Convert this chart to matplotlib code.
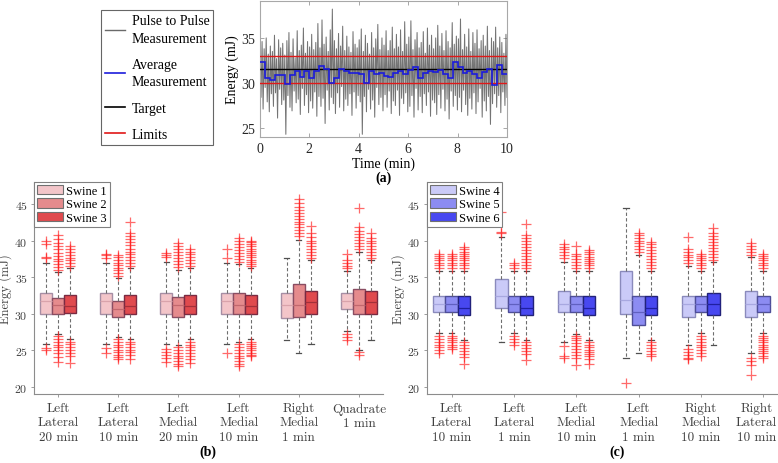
import numpy as np
import matplotlib
matplotlib.use('Agg')
import matplotlib.pyplot as plt
import matplotlib.transforms as mtransforms
from matplotlib.patches import Patch
from matplotlib.lines import Line2D

plt.rcParams['axes.formatter.use_mathtext'] = True

SERIF = ['Liberation Serif', 'DejaVu Serif']
CM = ['cmr10', 'DejaVu Serif']

# ---------------- panel (a) data ----------------
pulse = [
    35.2, 28.4, 34.6, 27.1, 33.8, 29.5, 35.0, 27.9, 33.2, 26.8, 34.1, 28.8,
    33.5, 27.4, 35.3, 28.9, 32.7, 26.1, 34.8, 29.3, 33.9, 27.6, 34.4, 28.1,
    33.1, 24.3, 34.7, 28.6, 35.6, 27.3, 33.4, 26.9, 34.9, 29.1, 32.8, 27.8,
    35.8, 28.2, 33.6, 26.5, 34.2, 29.4, 36.1, 27.5, 33.3, 28.7, 34.6, 26.7,
    34.0, 28.0, 35.4, 27.2, 33.7, 29.0, 34.5, 26.3, 36.6, 28.5, 33.9, 27.4,
    37.0, 28.3, 34.3, 25.5, 35.1, 29.2, 33.5, 27.0, 35.9, 28.4, 38.2, 27.7,
    34.7, 26.6, 33.8, 28.9, 35.5, 27.3, 34.1, 29.6, 36.3, 26.9, 33.6, 28.2,
    35.2, 27.5, 34.0, 28.8, 33.4, 26.4, 35.7, 29.0, 34.3, 27.2, 33.9, 28.6,
    34.8, 27.9, 36.0, 24.3, 33.5, 28.5, 35.3, 26.8, 34.4, 29.3, 33.2, 27.1,
    35.6, 28.1, 33.9, 26.2, 34.9, 29.5, 36.5, 27.6, 33.7, 28.4, 35.0, 26.9,
    34.2, 28.7, 35.8, 27.3, 33.6, 29.1, 34.7, 26.6, 36.2, 28.0, 33.8, 27.5,
    35.4, 29.2, 34.0, 26.4, 35.9, 28.3, 33.5, 27.7, 36.8, 28.9, 34.3, 26.8,
    35.1, 27.4, 36.9, 28.6, 33.7, 26.2, 34.8, 29.4, 35.6, 27.0, 33.9, 28.5,
    34.5, 26.7, 35.7, 28.8, 33.3, 27.5, 36.1, 29.0, 34.2, 26.3, 35.3, 28.1,
    33.8, 27.8, 35.0, 26.5, 36.4, 28.7, 34.1, 27.2, 35.5, 29.3, 33.6, 26.9,
    35.8, 28.2, 34.6, 26.0, 33.9, 29.1, 36.7, 27.4, 34.3, 28.6, 35.2, 27.0,
    34.9, 28.4, 37.1, 26.8, 33.7, 29.2, 35.4, 27.6, 34.0, 26.4, 36.0, 28.3,
    33.5, 27.1, 35.6, 28.9, 34.4, 26.6, 35.9, 27.9, 33.8, 29.4, 34.7, 26.2,
    35.3, 28.0, 34.1, 26.9, 36.3, 28.5, 33.6, 25.4, 35.0, 27.7, 34.6, 28.8,
    36.2, 27.3, 33.9, 28.6, 35.1, 26.7, 34.5, 29.0, 33.3, 27.5, 35.4, 28.4,
]
average = [
    32.3, 30.6, 30.3, 30.9, 30.9, 29.9, 30.9, 31.3, 30.7, 31.3,
    30.6, 31.3, 31.9, 31.5, 30.0, 30.6, 31.6, 31.3, 31.1, 31.1,
    31.0, 30.0, 31.3, 31.0, 31.1, 30.8, 30.7, 31.1, 31.3, 31.0,
    31.4, 31.8, 30.6, 31.1, 31.3, 31.2, 31.4, 31.0, 30.5, 32.3,
    31.8, 31.1, 31.3, 31.0, 30.6, 31.2, 31.5, 29.8, 32.0, 31.0,
]
target = 31.5
limits = [30.0, 33.0]

# ---------------- panel (b) data: Swine 1..3 ----------------
b_names = ['Left\nLateral\n20 min', 'Left\nLateral\n10 min', 'Left\nMedial\n20 min',
           'Left\nMedial\n10 min', 'Right\nMedial\n1 min', 'Quadrate\n1 min']
b_q3 = [[32.9, 32.9, 32.9, 32.9, 32.8, 32.8],
        [32.2, 31.7, 32.3, 32.9, 34.0, 33.4],
        [32.6, 32.6, 32.6, 32.6, 33.1, 33.1]]
b_med = [[31.7, 31.7, 31.7, 31.7, 31.2, 31.7],
         [31.2, 30.6, 31.2, 31.2, 31.2, 31.2],
         [31.1, 31.1, 31.0, 31.0, 31.6, 31.6]]
b_q1 = [[30.0, 30.0, 30.0, 30.0, 29.4, 30.6],
        [30.0, 29.6, 29.6, 30.0, 29.6, 30.0],
        [30.1, 30.0, 30.0, 30.0, 30.0, 30.0]]
b_hi = [[37.0, 37.0, 37.1, 37.0, 37.6, 35.9],
        [35.7, 34.9, 36.0, 36.8, 40.1, 38.4],
        [36.2, 36.2, 36.2, 36.2, 37.3, 37.3]]
b_lo = [[25.9, 25.9, 25.9, 25.9, 26.4, 27.6],
        [27.3, 26.8, 25.7, 26.2, 24.6, 25.0],
        [26.5, 26.5, 26.5, 26.5, 25.9, 26.4]]
b_fliers = [
    [[37.6, 37.7, 39.5, 40.0, 25.3, 25.1],
     [37.6, 38.0, 38.2, 25.3, 24.6],
     [37.7, 38.0, 38.3, 25.2, 24.8, 24.4, 23.9, 23.4],
     [37.6, 38.8, 24.7],
     [],
     [36.2, 36.5, 37.0, 37.3, 38.2, 27.2, 26.8, 26.4]],
    [[36.0, 36.4, 36.8, 37.2, 37.5, 37.9, 38.3, 38.8, 39.2, 39.7, 40.2, 40.7,
      27.0, 26.6, 26.2, 25.8, 25.4, 25.0, 24.6, 24.1, 23.4],
     [35.2, 35.6, 36.0, 36.3, 36.6, 37.0, 37.3, 37.7, 38.0,
      26.5, 26.1, 25.8, 25.4, 25.1, 24.8, 24.4, 24.1, 23.8],
     [36.4, 36.8, 37.2, 37.6, 38.0, 38.4, 38.8, 39.2, 39.6,
      25.5, 25.1, 24.7, 24.3, 23.9, 23.5, 23.1, 22.8],
     [37.1, 37.5, 37.9, 38.3, 38.7, 39.1, 39.5, 39.9, 40.3,
      25.9, 25.5, 25.1, 24.7, 24.3, 23.9, 23.5, 23.1, 22.8],
     [40.6, 41.0, 41.4, 41.8, 42.2, 42.6, 43.0, 43.4, 43.8, 44.2, 44.6, 45.1, 45.7],
     [38.9, 39.3, 39.7, 40.1, 40.5, 40.9, 41.3, 41.8, 44.5, 24.8, 24.4]],
    [[36.5, 36.9, 37.3, 37.6, 38.0, 38.4, 38.8, 39.3,
      26.2, 25.9, 25.5, 25.1, 24.7, 24.3, 23.3],
     [36.5, 36.9, 37.3, 37.7, 38.1, 38.5, 38.9, 39.4, 39.8, 40.2, 40.6, 41.0, 42.5,
      26.2, 25.9, 25.5, 25.1, 24.8, 24.4, 23.8],
     [36.5, 36.9, 37.3, 37.7, 38.1, 38.5, 38.9,
      26.2, 25.8, 25.4, 25.0, 24.6, 24.2, 23.8, 23.3],
     [36.5, 36.8, 37.1, 37.4, 37.7, 38.0, 38.3, 38.6, 38.9, 39.2, 39.5, 39.8, 40.0,
      26.2, 25.9, 25.6, 25.3, 25.0, 24.7, 24.4, 24.2],
     [37.6, 38.0, 38.4, 38.8, 39.2, 39.6, 40.0, 40.5, 41.0, 42.0],
     [37.6, 38.0, 38.4, 38.8, 39.2, 39.6, 40.0, 40.4, 41.0]],
]

# ---------------- panel (c) data: Swine 4..6 ----------------
c_names = ['Left\nLateral\n10 min', 'Left\nLateral\n1 min', 'Left\nMedial\n10 min',
           'Left\nMedial\n1 min', 'Right\nMedial\n10 min', 'Right\nLateral\n10 min']
c_q3 = [[32.4, 34.8, 33.1, 35.9, 32.4, 33.1],
        [32.4, 32.4, 32.4, 32.4, 32.4, 32.4],
        [32.4, 32.4, 32.4, 32.4, 32.9, None]]
c_med = [[31.3, 32.4, 31.3, 31.9, 31.3, 31.3],
         [31.3, 31.3, 31.3, 30.3, 31.3, 31.3],
         [30.8, 30.8, 30.8, 30.8, 31.3, None]]
c_q1 = [[30.3, 30.8, 30.3, 30.0, 29.6, 29.6],
        [30.3, 30.3, 30.3, 28.5, 30.3, 30.3],
        [29.8, 29.8, 29.8, 29.8, 29.8, None]]
c_hi = [[35.9, 40.5, 37.1, 44.4, 36.5, 37.7],
        [35.9, 35.9, 35.9, 38.0, 35.9, 35.9],
        [35.9, 35.9, 35.9, 35.9, 37.1, None]]
c_lo = [[27.4, 26.2, 26.1, 24.0, 25.7, 24.6],
        [27.4, 27.4, 27.3, 24.7, 27.4, 27.4],
        [26.4, 26.4, 26.4, 26.4, 25.8, None]]
c_fliers = [
    [[36.3, 36.7, 37.0, 37.3, 37.6, 37.9, 38.2, 27.0, 26.6, 26.2, 25.8, 25.4, 25.0, 24.6],
     [41.0, 41.2, 43.9],
     [37.6, 38.0, 38.4, 38.8, 39.1, 39.5, 25.6, 24.2, 24.0],
     [20.6],
     [37.0, 37.3, 37.7, 38.0, 38.4, 38.8, 40.5, 25.2, 24.8, 24.4, 24.0, 23.8],
     [38.0, 38.4, 38.8, 39.2, 39.6, 24.0, 23.5, 23.0, 21.7]],
    [[36.3, 36.6, 37.0, 37.3, 37.6, 37.9, 38.1, 27.0, 26.7, 26.4, 26.1, 25.8, 25.5, 25.2],
     [36.3, 36.7, 37.0, 27.0, 26.6, 26.2, 25.8],
     [36.3, 36.7, 37.1, 37.5, 37.9, 38.2, 39.2,
      27.0, 26.7, 26.4, 26.0, 25.6, 25.2, 24.8, 24.4, 24.0, 23.0],
     [38.5, 38.8, 39.2, 39.6, 40.0, 40.4, 40.8, 41.1],
     [36.3, 36.6, 37.0, 37.3, 37.6, 37.9, 38.1, 27.0, 26.6, 26.2, 25.8, 25.4, 25.0, 24.6, 24.2],
     [36.3, 36.6, 37.0, 37.3, 37.6, 37.9, 38.1,
      27.0, 26.7, 26.4, 26.1, 25.8, 25.5, 25.2, 24.9, 24.6, 24.3, 24.0]],
    [[36.3, 36.6, 37.0, 37.3, 37.6, 37.9, 38.2, 38.5, 38.8, 39.1,
      26.1, 25.7, 25.3, 24.9, 24.5, 24.1, 23.2],
     [36.3, 36.7, 37.1, 37.5, 37.9, 38.3, 38.7, 39.1, 39.5, 39.9, 40.3, 40.7, 42.2,
      26.1, 25.7, 25.3, 24.9, 24.5, 23.7],
     [36.3, 36.6, 36.9, 37.2, 37.5, 37.8, 38.1, 38.4, 38.7,
      26.1, 25.8, 25.5, 25.1, 24.8, 24.5, 24.2, 23.8, 23.2],
     [36.3, 36.7, 37.1, 37.5, 37.9, 38.3, 38.7, 39.1, 39.5, 39.8,
      26.1, 25.7, 25.3, 24.9, 24.5, 24.2],
     [37.4, 37.8, 38.2, 38.6, 39.0, 39.4, 39.8, 40.2, 40.6, 41.0, 41.7],
     []],
]

red_fill = ['#f3c5c9', '#e58b8d', '#e04a4e']
red_edge = ['#a68ea4', '#8a4d62', '#7a2a42']
red_med = ['#d9a3ab', '#c2686e', '#a3303a']
blue_fill = ['#cacaf8', '#8c8cf2', '#4848f0']
blue_edge = ['#8a8abc', '#4e4e98', '#22227a']
blue_med = ['#a8a8e0', '#6060c0', '#2020a0']

fig = plt.figure(figsize=(7.78, 4.64), dpi=100)

# ---------------- panel (a) ----------------
ax_a = fig.add_axes([260 / 778, 1 - 138 / 464, 247 / 778, 136 / 464])
t = np.linspace(0, 10, len(pulse))
ax_a.plot(t, pulse, color='#5c5c5c', lw=0.75, alpha=0.85)
edges = np.linspace(0, 10, len(average) + 1)
ax_a.stairs(average, edges, color='#1c1cdc', lw=1.2, baseline=None, zorder=4)
ax_a.axhline(target, color='k', lw=1.0, zorder=3)
for lim in limits:
    ax_a.axhline(lim, color='#e01818', lw=1.0, zorder=3)
ax_a.set_xlim(0, 10)
ax_a.set_ylim(24, 39.1)
ax_a.set_xticks([0, 2, 4, 6, 8, 10])
ax_a.set_yticks([25, 30, 35])
ax_a.tick_params(direction='in', top=True, right=True, length=3, width=0.6,
                 color='#9a9a9a', labelsize=10, labelcolor='#262626', pad=3)
for lbl in ax_a.get_xticklabels() + ax_a.get_yticklabels():
    lbl.set_family(SERIF)
for sp in ax_a.spines.values():
    sp.set_color('#a8a8a8')
    sp.set_linewidth(0.8)
ax_a.set_xlabel('Time (min)', family=SERIF, fontsize=10, labelpad=1)
ax_a.set_ylabel('Energy (mJ)', family=SERIF, fontsize=10, labelpad=1)

a_handles = [Line2D([], [], color='#6a6a6a', lw=1.0),
             Line2D([], [], color='#1c1cdc', lw=1.2),
             Line2D([], [], color='k', lw=1.2),
             Line2D([], [], color='#e01818', lw=1.2)]
a_labels = ['Pulse to Pulse\nMeasurement', 'Average\nMeasurement', 'Target', 'Limits']
leg_a = fig.legend(a_handles, a_labels, loc='upper left', bbox_to_anchor=(101 / 778, 1 - 11 / 464),
                   borderaxespad=0, frameon=True, fancybox=False, edgecolor='#404040',
                   prop={'family': SERIF, 'size': 10}, labelspacing=0.95, handlelength=1.45,
                   handletextpad=0.45, borderpad=0.3)
leg_a.get_frame().set_linewidth(0.8)
for txt in leg_a.get_texts():
    txt.set_linespacing(1.45)
fig.text(383 / 778, 1 - 178 / 464, '(a)', ha='center', va='center', family=SERIF,
         fontsize=10, fontweight='bold')

offsets = [-0.2, 0.0, 0.2]


def box_panel(ax, q1, med, q3, lo, hi, fliers, fills, edgec, medc):
    for s in range(3):
        stats = []
        pos = []
        for g in range(6):
            if q1[s][g] is None:
                continue
            stats.append(dict(q1=q1[s][g], med=med[s][g], q3=q3[s][g],
                              whislo=lo[s][g], whishi=hi[s][g], fliers=fliers[s][g]))
            pos.append(g + 1 + offsets[s])
        ax.bxp(stats, positions=pos, widths=0.2, capwidths=0.09, patch_artist=True,
               manage_ticks=False,
               boxprops=dict(facecolor=fills[s], edgecolor=edgec[s], linewidth=1.0),
               medianprops=dict(color=medc[s], linewidth=0.9),
               whiskerprops=dict(color='#6e6e6e', linewidth=0.8, linestyle=(0, (3, 2))),
               capprops=dict(color='#505050', linewidth=0.9),
               flierprops=dict(marker='+', markeredgecolor='#ff1a1a', markersize=6.5,
                               markeredgewidth=0.9, alpha=0.65))


def style_box_axes(ax, names, xmax, legend_labels, fills, label_x):
    ax.set_xlim(0.6, xmax)
    ax.set_ylim(19, 48)
    ax.set_yticks([20, 25, 30, 35, 40, 45])
    ax.set_xticks(range(1, 7), labels=names)
    ax.tick_params(direction='out', length=2.5, width=0.6, color='#8c8c8c',
                   labelcolor='#404040', pad=3)
    ax.tick_params(axis='x', labelsize=9.5)
    ax.tick_params(axis='y', labelsize=8.5, pad=2)
    for lbl in ax.get_xticklabels() + ax.get_yticklabels():
        lbl.set_family(CM)
        lbl.set_multialignment('center')
        lbl.set_linespacing(1.25)
    for side in ['top', 'right']:
        ax.spines[side].set_visible(False)
    for side in ['left', 'bottom']:
        ax.spines[side].set_color('#8c8c8c')
        ax.spines[side].set_linewidth(0.8)
    ax.set_ylabel('Energy (mJ)', family=CM, fontsize=9, color='#404040')
    ax.yaxis.set_label_coords(label_x, 0.5)
    handles = [Patch(facecolor=fills[s], edgecolor='#707070', linewidth=0.8) for s in range(3)]
    leg = ax.legend(handles, legend_labels, loc='upper left', bbox_to_anchor=(0, 1),
                    borderaxespad=0, fancybox=False, edgecolor='#808080', framealpha=1,
                    prop={'family': SERIF, 'size': 9}, labelspacing=0.1, handlelength=2.1,
                    handleheight=0.75, handletextpad=0.2, borderpad=0.25)
    leg.get_frame().set_linewidth(0.8)


ax_b = fig.add_axes([34 / 778, 1 - 395.3 / 464, 349 / 778, 212.3 / 464])
box_panel(ax_b, b_q1, b_med, b_q3, b_lo, b_hi, b_fliers, red_fill, red_edge, red_med)
style_box_axes(ax_b, b_names, 6.4, ['Swine 1', 'Swine 2', 'Swine 3'], red_fill, -0.062)

ax_c = fig.add_axes([426.7 / 778, 1 - 395.3 / 464, 350.3 / 778, 212.3 / 464])
box_panel(ax_c, c_q1, c_med, c_q3, c_lo, c_hi, c_fliers, blue_fill, blue_edge, blue_med)
style_box_axes(ax_c, c_names, 6.22, ['Swine 4', 'Swine 5', 'Swine 6'], blue_fill, -0.062)
shift = mtransforms.ScaledTranslation(-7 / 100, 0, fig.dpi_scale_trans)
last = ax_c.get_xticklabels()[-1]
last.set_transform(last.get_transform() + shift)

fig.text(208 / 778, 1 - 452 / 464, '(b)', ha='center', va='center', family=SERIF,
         fontsize=10, fontweight='bold')
fig.text(617 / 778, 1 - 452 / 464, '(c)', ha='center', va='center', family=SERIF,
         fontsize=10, fontweight='bold')

fig.savefig('out.png', dpi=100)
